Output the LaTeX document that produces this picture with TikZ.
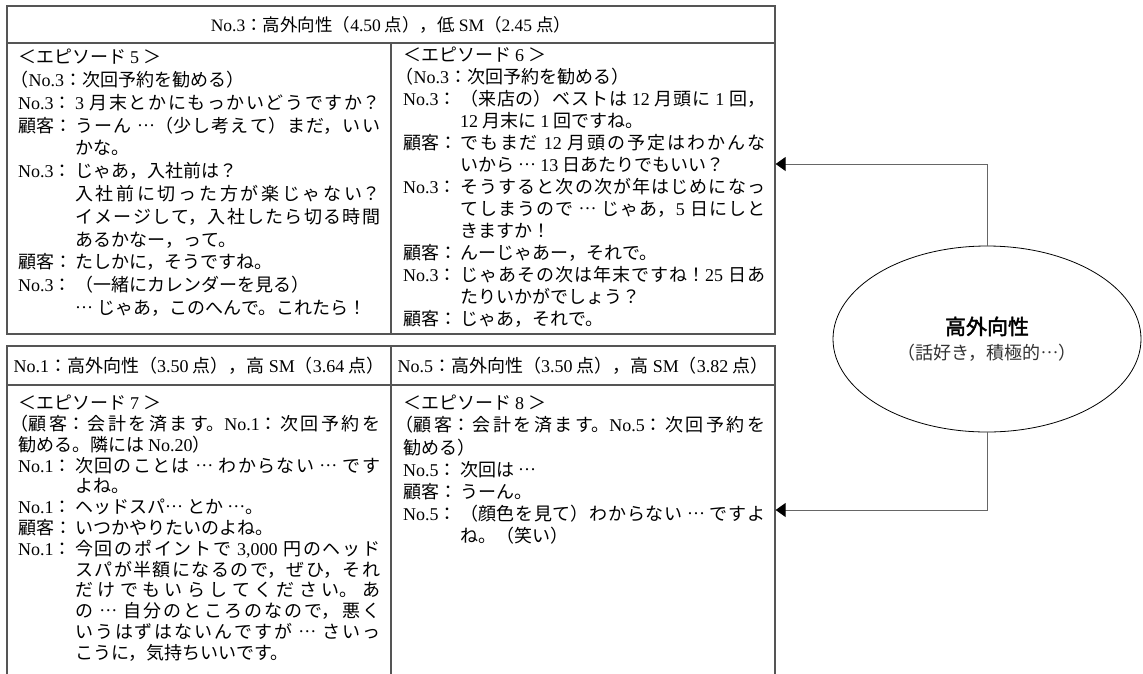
\documentclass[tikz,border=0pt]{standalone}
\usepackage{fontspec}
\setmainfont{Liberation Serif}
\newfontfamily\jp{Noto Sans CJK JP}
\newfontfamily\jpb[FakeBold=2]{Noto Sans CJK JP}
\usetikzlibrary{shapes.geometric,arrows.meta}
\XeTeXlinebreaklocale "ja"
\XeTeXlinebreakskip=0pt plus 2pt
\newcommand\tm[1]{{\rmfamily #1}}
\newcommand\el{\raisebox{0.33em}{\tm{…}}}
\newcommand\lp{\hspace*{-0.42em}}
\newlength\lw
\setlength\lw{57pt}
\newcommand\spk[1]{\makebox[\lw][l]{#1}}
\newcommand\ind{\hspace*{\lw}}
\newcommand\cf[2]{\jp\fontsize{#1}{#2}\selectfont\tolerance=10000 \hbadness=10000 \parindent=0pt\relax}
\definecolor{bordergray}{HTML}{555555}
\definecolor{linegray}{HTML}{666666}
\tikzset{
  cell/.style={draw=bordergray, line width=1.3pt, rectangle, inner sep=0pt, font=\cf{17.5}{22}},
  txt/.style={anchor=north west, inner sep=0pt, text width=362pt, align=justify},
  conn/.style={draw=linegray, line width=1pt, -{Triangle[length=10pt,width=14pt,color=black]}},
}
\begin{document}
\begin{tikzpicture}[x=1pt,y=-1pt]
\useasboundingbox[fill=white] (0,0) rectangle (1143,673);
% upper block
\node[cell, minimum width=768pt, minimum height=37pt] (h3) at (391,24.5)
  {\tm{No.3}：高外向性（\tm{4.50} 点），低 \tm{SM}（\tm{2.45} 点）};
\node[cell, minimum width=384pt, minimum height=291pt] (ep5) at (199,188.5) {};
\node[cell, minimum width=384pt, minimum height=291pt] (ep6) at (583,188.5) {};
% lower block
\node[cell, minimum width=384pt, minimum height=39pt, font=\cf{18}{22}] (h1) at (199,365.5)
  {\tm{No.1}：高外向性（\tm{3.50} 点），高 \tm{SM}（\tm{3.64} 点）};
\node[cell, minimum width=384pt, minimum height=39pt, font=\cf{18}{22}] (h5) at (583,365.5)
  {\tm{No.5}：高外向性（\tm{3.50} 点），高 \tm{SM}（\tm{3.82} 点）};
\node[cell, minimum width=384pt, minimum height=310pt] (ep7) at (199,540) {};
\node[cell, minimum width=384pt, minimum height=310pt] (ep8) at (583,540) {};

\node[txt, font=\cf{18}{22.8}] (t5) at (18,49) {%
＜エピソード \tm{5} ＞\\
\lp（\tm{No.3}：次回予約を勧める）\\
\spk{\tm{No.3}：}\tm{3} 月末とかにもっかいどうですか？\break
\spk{顧客：}うーん \el（少し考えて）まだ，いい\break
\ind かな。\\
\spk{\tm{No.3}：}じゃあ，入社前は？\\
\ind 入社前に切った方が楽じゃない？\break
\ind イメージして，入社したら切る時間\break
\ind あるかなー，って。\\
\spk{顧客：}たしかに，そうですね。\\
\spk{\tm{No.3}：}（一緒にカレンダーを見る）\\
\ind \el\ じゃあ，このへんで。これたら！};

\node[txt, font=\cf{18}{22}] (t6) at (403,47) {%
＜エピソード \tm{6} ＞\\
\lp（\tm{No.3}：次回予約を勧める）\\
\spk{\tm{No.3}：}（来店の）ベストは \tm{12} 月頭に \tm{1} 回，\break
\ind \tm{12} 月末に \tm{1} 回ですね。\\
\spk{顧客：}でもまだ \tm{12} 月頭の予定はわかんな\break
\ind いから \el\ \tm{13} 日あたりでもいい？\\
\spk{\tm{No.3}：}そうすると次の次が年はじめになっ\break
\ind てしまうので \el\ じゃあ，\tm{5} 日にしと\break
\ind きますか！\\
\spk{顧客：}んーじゃあー，それで。\\
\spk{\tm{No.3}：}じゃあその次は年末ですね！\tm{25} 日あ\break
\ind たりいかがでしょう？\\
\spk{顧客：}じゃあ，それで。};

\node[txt, font=\cf{18}{20.8}] (t7) at (18,395) {%
＜エピソード \tm{7} ＞\\
\lp（顧客：会計を済ます。\tm{No.1}：次回予約を\break
勧める。隣には \tm{No.20}）\\
\spk{\tm{No.1}：}次回のことは \el\ わからない \el\ です\break
\ind よね。\\
\spk{\tm{No.1}：}ヘッドスパ\el\ とか \el。\\
\spk{顧客：}いつかやりたいのよね。\\
\spk{\tm{No.1}：}今回のポイントで \tm{3,000} 円のヘッド\break
\ind スパが半額になるので，ぜひ，それ\break
\ind だけでもいらしてください。あ\break
\ind の \el\ 自分のところのなので，悪く\break
\ind いうはずはないんですが \el\ さいっ\break
\ind こうに，気持ちいいです。};

\node[txt, font=\cf{18}{22.2}] (t8) at (403,395) {%
＜エピソード \tm{8} ＞\\
\lp（顧客：会計を済ます。\tm{No.5}：次回予約を\break
勧める）\\
\spk{\tm{No.5}：}次回は \el\\
\spk{顧客：}うーん。\\
\spk{\tm{No.5}：}（顔色を見て）わからない \el\ ですよ\break
\ind ね。（笑い）};

% ellipse
\node[ellipse, draw=black, line width=0.8pt, minimum width=308pt, minimum height=186pt, inner sep=0pt, align=center, font=\jp\fontsize{18}{25}\selectfont] (ell) at (987,339)
  {{\jpb\fontsize{21}{25}\selectfont 高外向性}\\{\color{black!80}（話好き，積極的\el）}};

\draw[conn] (ell.north) |- ([yshift=24.5pt]ep6.east);
\draw[conn] (ell.south) |- ([yshift=30pt]ep8.east);
\end{tikzpicture}
\end{document}
